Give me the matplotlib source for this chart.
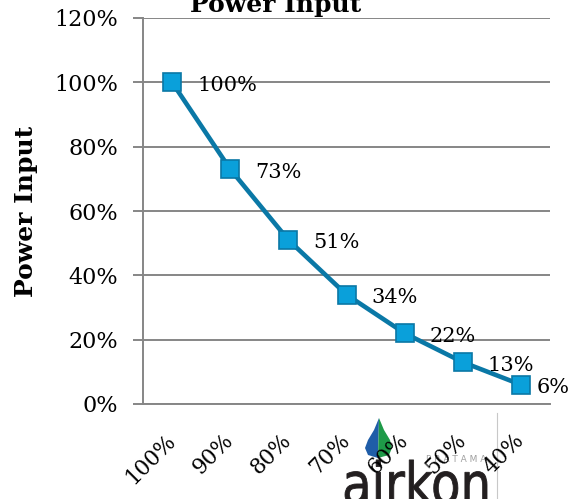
import matplotlib
matplotlib.use("Agg")
import matplotlib.pyplot as plt
from matplotlib.patches import Polygon, PathPatch
from matplotlib.lines import Line2D
from matplotlib.textpath import TextPath
from matplotlib.font_manager import FontProperties
from matplotlib.transforms import Affine2D

categories = ["100%", "90%", "80%", "70%", "60%", "50%", "40%"]
power_input = [100, 73, 51, 34, 22, 13, 6]
data_labels = ["100%", "73%", "51%", "34%", "22%", "13%", "6%"]
y_ticks = [0, 20, 40, 60, 80, 100, 120]
y_tick_labels = ["0%", "20%", "40%", "60%", "80%", "100%", "120%"]

W, H = 570, 499
fig = plt.figure(figsize=(W / 100, H / 100), dpi=100)
plt.rcParams['font.family'] = ['DejaVu Serif']

ax = fig.add_axes([143 / W, 1 - 404 / H, (550 - 143) / W, (404 - 18) / H])
x = list(range(len(categories)))

gray = "#868686"
ax.set_ylim(0, 120)
ax.set_xlim(-0.5, len(categories) - 0.5)
ax.set_yticks(y_ticks)
ax.set_yticklabels(y_tick_labels, fontsize=16)
ax.yaxis.grid(True, color=gray, linewidth=1.4)
ax.set_axisbelow(True)
ax.tick_params(axis='y', length=7, width=1.4, color=gray, pad=11)
ax.tick_params(axis='x', length=0, pad=24)
ax.set_xticks(x)
ax.set_xticklabels(categories, fontsize=15.5, rotation=45, ha='right', va='center',
                   rotation_mode='anchor')
for s in ['top', 'right']:
    ax.spines[s].set_visible(False)
for s in ['left', 'bottom']:
    ax.spines[s].set_color(gray)
    ax.spines[s].set_linewidth(1.4)

ax.plot(x, power_input, color="#0A78A6", linewidth=3.3, marker='s', markersize=13.5,
        markerfacecolor="#0AA0DA", markeredgecolor="#0A78A6", markeredgewidth=1.2,
        zorder=3, clip_on=False)

n = len(power_input)
for i, (xi, yi, lab) in enumerate(zip(x, power_input, data_labels)):
    dx = 16 if i == n - 1 else 25
    ax.annotate(lab, (xi, yi), xytext=(dx, -3), textcoords='offset pixels',
                ha='left', va='center', fontsize=15, zorder=4)

ax.set_ylabel("Power Input", fontsize=18, fontweight='bold')
ax.yaxis.set_label_coords((38 - 143) / 407, 0.5)
fig.text(276 / W, 1 - 5 / H, "Power Input", ha='center', va='center',
         fontsize=18, fontweight='bold')

# logo watermark (drawn beneath the axes texts)
fig.add_artist(Line2D([497 / W, 497 / W], [0, 1 - 413 / H], color="#c8c8c8",
                      linewidth=0.8, zorder=-1))
tp = TextPath((0, 0), "airkon", size=1, prop=FontProperties(family='DejaVu Sans'))
ext = tp.get_extents()
sx = (487 - 345) / ext.width
sy = 58
tr = (Affine2D().translate(-ext.x0, 0).scale(sx, sy).translate(345, H - 504)
      + fig.dpi_scale_trans.inverted().frozen()
      if False else
      Affine2D().translate(-ext.x0, 0).scale(sx / W, sy / H).translate(345 / W, (H - 504) / H)
      + fig.transFigure)
fig.add_artist(PathPatch(tp, transform=tr, facecolor="#231f20", edgecolor="#231f20",
                         linewidth=0.6, zorder=-1))
fig.text(426 / W, 1 - 460 / H, "P R A T A M A", ha='left', va='center', fontsize=6.5,
         color="#a0a0a0", family='DejaVu Sans', zorder=-1)
drop_l = [(379, 418), (374, 430), (368, 440), (365, 448), (368, 455), (378, 458)]
drop_r = [(379, 418), (384, 430), (390, 440), (392, 448), (389, 455), (378, 458)]
fig.add_artist(Polygon([(px / W, 1 - py / H) for px, py in drop_l], closed=True,
                       transform=fig.transFigure, facecolor="#1f5da8", edgecolor='none',
                       zorder=-1))
fig.add_artist(Polygon([(px / W, 1 - py / H) for px, py in drop_r], closed=True,
                       transform=fig.transFigure, facecolor="#1e9a48", edgecolor='none',
                       zorder=-1))

fig.savefig("out.png", dpi=100)
